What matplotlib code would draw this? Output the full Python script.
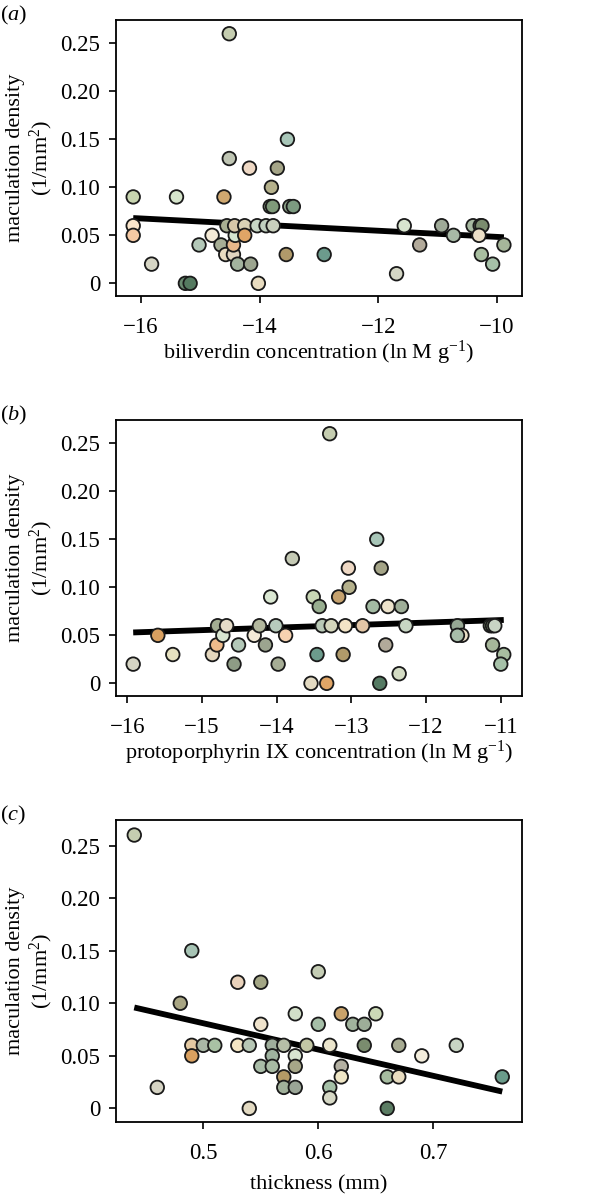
import matplotlib
matplotlib.use("Agg")
import matplotlib.pyplot as plt
from matplotlib.ticker import FixedLocator, FixedFormatter

plt.rcParams['font.family'] = ['Liberation Serif', 'DejaVu Serif']
plt.rcParams['mathtext.fontset'] = 'custom'
plt.rcParams['mathtext.rm'] = 'Liberation Serif'
plt.rcParams['mathtext.it'] = 'Liberation Serif:italic'

# (a) biliverdin
bv_x = [-16.13, -16.13, -16.13, -15.82, -15.40, -15.25, -15.17, -15.02, -14.80, -14.60,
        -14.65, -14.55, -14.57, -14.44, -14.44, -14.41, -14.42, -14.37, -14.25, -14.25,
        -14.15, -14.04, -14.02, -13.89, -13.77, -13.80, -13.82, -13.78, -13.55, -13.49,
        -13.43, -12.91, -11.69, -11.56, -11.30, -10.93, -10.73, -10.40, -10.28, -10.25,
        -10.30, -10.26, -10.07, -9.88, -14.51, -14.51, -14.17, -13.53, -13.70]
bv_y = [0.09, 0.06, 0.05, 0.02, 0.09, 0.00, 0.00, 0.04, 0.05, 0.09,
        0.04, 0.06, 0.03, 0.03, 0.04, 0.05, 0.06, 0.02, 0.06, 0.05,
        0.02, 0.06, 0.00, 0.06, 0.06, 0.10, 0.08, 0.08, 0.03, 0.08,
        0.08, 0.03, 0.01, 0.06, 0.04, 0.06, 0.05, 0.06, 0.06, 0.06,
        0.05, 0.03, 0.02, 0.04, 0.26, 0.13, 0.12, 0.15, 0.12]
bv_col = ['#c8d5b0', '#fbe6cc', '#f5c9a4', '#d6d5c4', '#d6e5cc', '#6a8b70', '#557a60', '#b3c8b8', '#f4ead6', '#cfa870',
          '#a7ae95', '#a9af92', '#e9dcc0', '#e0d5c0', '#e7b88a', '#d5e5d0', '#d7c7a8', '#a3b39e', '#d9d2b6', '#e0a566',
          '#9ca58f', '#c7d6c5', '#e8dcc0', '#c0cfbe', '#c9d0bd', '#b5b18c', '#92a889', '#7f9a7a', '#b09a6a', '#8fa58a',
          '#7c9a80', '#6c9b8c', '#d4d6c4', '#d8e5cf', '#b2aa9a', '#9faa98', '#a7b9a6', '#a6b8a0', '#8e9e7e', '#7a8c6e',
          '#ece0c8', '#a8bea0', '#a6c1a8', '#a6b69a', '#c5cdb0', '#bfc5b3', '#eed8c4', '#a8c6b8', '#a4a487']
bv_fit_x = [-16.13, -9.88]
bv_fit_y = [0.068, 0.048]

# (b) protoporphyrin IX
pp_x = [-15.92, -15.59, -15.39, -14.86, -14.80, -14.79, -14.72, -14.67, -14.57, -14.51,
        -14.30, -14.23, -14.15, -14.08, -14.01, -13.98, -13.88, -13.79, -13.51, -13.43,
        -13.54, -13.46, -13.39, -13.27, -13.33, -13.29, -13.17, -13.03, -13.04, -13.08,
        -13.11, -12.85, -12.71, -12.66, -12.60, -12.62, -12.54, -12.51, -12.36, -12.33,
        -12.27, -11.58, -11.52, -11.58, -11.14, -11.11, -11.08, -11.11, -10.96, -11.00]
pp_y = [0.02, 0.05, 0.03, 0.03, 0.04, 0.06, 0.05, 0.06, 0.02, 0.04,
        0.05, 0.06, 0.04, 0.09, 0.06, 0.02, 0.05, 0.13, 0.09, 0.08,
        0.00, 0.03, 0.06, 0.06, 0.00, 0.26, 0.09, 0.10, 0.12, 0.06,
        0.03, 0.06, 0.08, 0.15, 0.12, 0.00, 0.04, 0.08, 0.01, 0.08,
        0.06, 0.06, 0.05, 0.05, 0.06, 0.06, 0.06, 0.04, 0.03, 0.02]
pp_col = ['#d6d5c4', '#d9a060', '#e6e1c0', '#e3d6bd', '#eeba8a', '#a3ad92', '#d8e5d0', '#e6dcc8', '#8e9c85', '#b3c8b8',
          '#f4ead6', '#b3b89e', '#9ca58f', '#dae7d2', '#b7cbbc', '#a6ad95', '#f7d2b0', '#c5cab5', '#c8d6b5', '#98ae90',
          '#e3dac2', '#6c9b8c', '#b8c8b5', '#d4d6bc', '#e0a566', '#c5cdb0', '#c6a26e', '#b5b18c', '#eed8c4', '#f3e4c6',
          '#b09a6a', '#e3c6a6', '#a3bba3', '#a8c6b8', '#a4a487', '#557a63', '#b2aa9a', '#ede3cc', '#d4dcc4', '#9fae98',
          '#c8d6c4', '#97a894', '#ece0c8', '#a7bda9', '#7a8c6e', '#8e9e7e', '#c8d5c4', '#a6b69a', '#a8bea0', '#a6c1a8']
pp_fit_x = [-15.92, -10.96]
pp_fit_y = [0.053, 0.066]

# (c) thickness
th_x = [0.44, 0.46, 0.48, 0.49, 0.49, 0.49, 0.50, 0.51, 0.53, 0.53,
        0.54, 0.54, 0.55, 0.55, 0.55, 0.56, 0.56, 0.56, 0.57, 0.57,
        0.57, 0.58, 0.58, 0.58, 0.58, 0.59, 0.60, 0.60, 0.61, 0.61,
        0.61, 0.62, 0.62, 0.62, 0.63, 0.64, 0.64, 0.65, 0.66, 0.66,
        0.67, 0.67, 0.69, 0.72, 0.76]
th_y = [0.26, 0.02, 0.10, 0.15, 0.06, 0.05, 0.06, 0.06, 0.12, 0.06,
        0.06, 0.00, 0.08, 0.12, 0.04, 0.06, 0.05, 0.04, 0.06, 0.03,
        0.02, 0.09, 0.05, 0.04, 0.02, 0.06, 0.13, 0.08, 0.06, 0.02,
        0.01, 0.09, 0.04, 0.03, 0.08, 0.08, 0.06, 0.09, 0.03, 0.00,
        0.06, 0.03, 0.05, 0.06, 0.03]
th_col = ['#c5cdb0', '#d5d3c3', '#a8a583', '#a7c4b5', '#e3c9a2', '#d9a060', '#a9b8a6', '#a9c2a4', '#e9d2bb', '#f5e6c4',
          '#b7c7b5', '#e3dac2', '#efe3cc', '#a3a685', '#a9bca7', '#9fae9c', '#9fb3a0', '#a8bba4', '#b6bea7', '#b49a66',
          '#a0b09a', '#d2dfc8', '#d8e5d0', '#a6a688', '#9aa596', '#c3c7a5', '#c5cdb5', '#a6bfa8', '#ebe5cc', '#a4bfa6',
          '#d6d8c5', '#c9a26a', '#b3b0a2', '#efe6c6', '#a0b29c', '#9dae98', '#7a8c6e', '#cbd9b6', '#a6bca0', '#5b7c63',
          '#a7ab92', '#e8dcc0', '#f3eddc', '#c8d5c4', '#6a9b8a']
th_fit_x = [0.44, 0.76]
th_fit_y = [0.096, 0.016]

y_ticks = [0, 0.05, 0.10, 0.15, 0.20, 0.25]
y_ticklabels = ['0', '0.05', '0.10', '0.15', '0.20', '0.25']

panels = [
    ('a', bv_x, bv_y, bv_col, bv_fit_x, bv_fit_y, [-16, -14, -12, -10], ['\u221216', '\u221214', '\u221212', '\u221210'],
     (-16.42, -9.58), 'biliverdin concentration (ln M g$^{-1}$)', [116, 20, 521.7, 296], 1),
    ('b', pp_x, pp_y, pp_col, pp_fit_x, pp_fit_y, [-16, -15, -14, -13, -12, -11],
     ['\u221216', '\u221215', '\u221214', '\u221213', '\u221212', '\u221211'],
     (-16.15, -10.72), 'protoporphyrin IX concentration (ln M g$^{-1}$)', [116, 420, 521.7, 696], 1),
    ('c', th_x, th_y, th_col, th_fit_x, th_fit_y, [0.5, 0.6, 0.7], ['0.5', '0.6', '0.7'],
     (0.4241, 0.7769), 'thickness (mm)', [116, 820, 521.7, 1122.3], 8),
]

W, H = 590, 1194
fig = plt.figure(figsize=(W / 100, H / 100), dpi=100)

for letter, xs, ys, cols, fx, fy, xt, xtl, xlim, xlab, box, lpad in panels:
    l, t, r, b = box
    ax = fig.add_axes([l / W, 1 - b / H, (r - l) / W, (b - t) / H])
    ax.plot(fx, fy, color='black', lw=4.2, solid_capstyle='butt', zorder=2)
    ax.scatter(xs, ys, c=cols, s=95, edgecolors='#1a1a1a', linewidths=1.3, zorder=3)
    ax.set_xlim(*xlim)
    ax.set_ylim(-0.0132, 0.2743)
    ax.xaxis.set_major_locator(FixedLocator(xt))
    ax.xaxis.set_major_formatter(FixedFormatter(xtl))
    ax.yaxis.set_major_locator(FixedLocator(y_ticks))
    ax.yaxis.set_major_formatter(FixedFormatter(y_ticklabels))
    for s in ax.spines.values():
        s.set_linewidth(1.3)
    ax.tick_params(direction='out', length=5, width=1.2, labelsize=16.5)
    ax.tick_params(axis='x', pad=10)
    ax.tick_params(axis='y', pad=6.5)
    ax.set_xlabel(xlab, fontsize=16, labelpad=lpad)
    ax.set_ylabel('maculation density\n(1/mm$^2$)', fontsize=16, linespacing=1.15)
    ax.yaxis.set_label_coords(-0.151, 0.5)
    fig.text(0.0, 1 - (t - 5) / H, '($' + letter + '$)', fontsize=16, ha='left', va='center')

fig.savefig('out.png', dpi=100)
